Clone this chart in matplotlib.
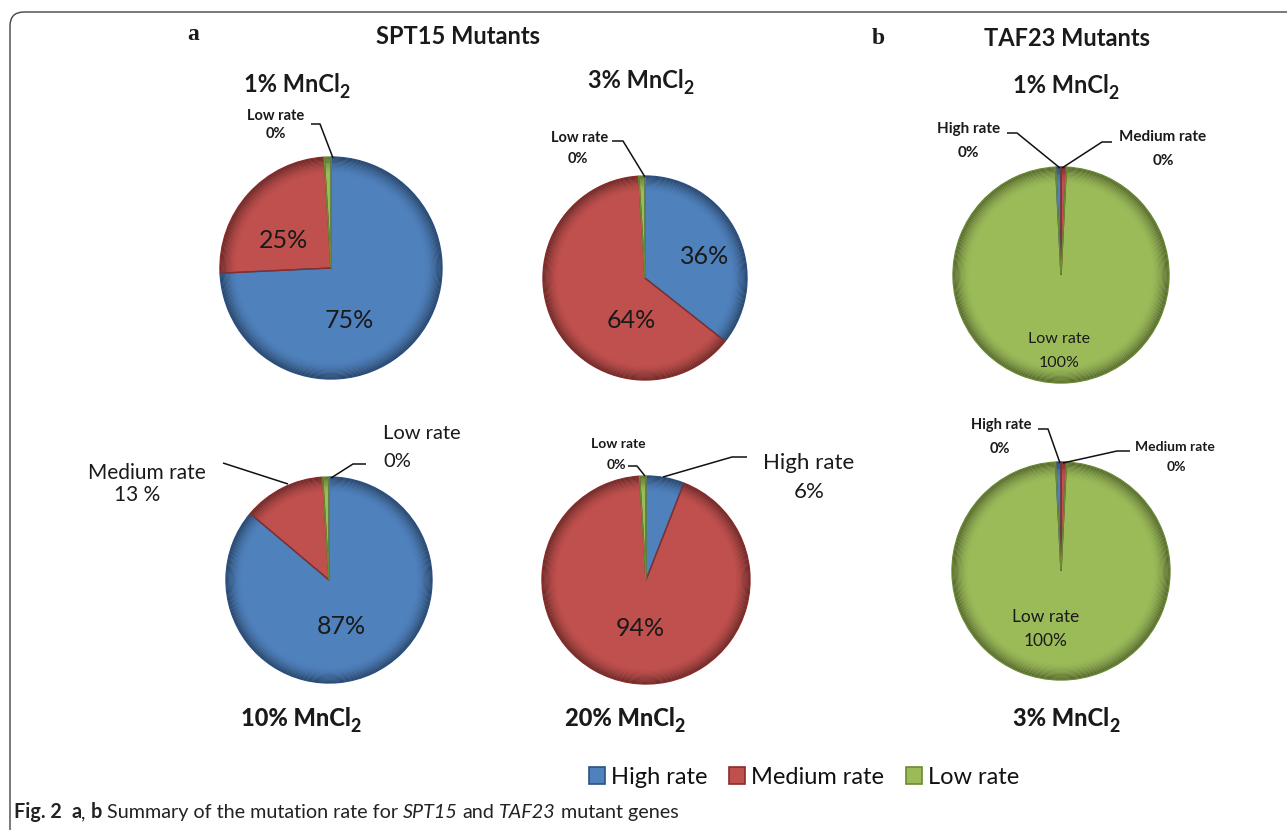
import matplotlib
matplotlib.use('Agg')
import matplotlib.pyplot as plt
from matplotlib.patches import Patch, FancyBboxPatch
from matplotlib.colors import to_rgb
import numpy as np

# ---------------- data ----------------
categories = ['High rate', 'Medium rate', 'Low rate']
panel_titles = ['1% MnCl', '3% MnCl', '10% MnCl', '20% MnCl', '1% MnCl', '3% MnCl']
high_rate = [75, 36, 87, 6, 0, 0]
medium_rate = [25, 64, 13, 94, 0, 0]
low_rate = [0, 0, 0, 0, 100, 100]
group_titles = ['SPT15 Mutants', 'TAF23 Mutants']
panel_letters = ['a', 'b']

# ---------------- style ----------------
W, H = 1287, 830
FONT = 'Lato'
base_colors = ['#4F81BD', '#C0504D', '#9BBB59']
edge_colors = ['#2B5184', '#8A2C2A', '#6B8A34']
TXT = '#1a1a1a'

fig = plt.figure(figsize=(W / 100, H / 100), dpi=100)
fig.patch.set_facecolor('white')

ov = fig.add_axes([0, 0, 1, 1], zorder=10)
ov.set_xlim(0, W)
ov.set_ylim(H, 0)
ov.axis('off')
renderer = fig.canvas.get_renderer()


def blend(c, d, f):
    c = np.array(to_rgb(c)); d = np.array(to_rgb(d))
    return tuple(c * (1 - f) + d * f)


def draw_pie(cx, cy, r, vals, start):
    pad = 1.04
    ra = r * pad
    ax = fig.add_axes([(cx - ra) / W, 1 - (cy + ra) / H, 2 * ra / W, 2 * ra / H])
    ax.pie(vals, colors=base_colors, startangle=start, counterclock=False,
           radius=1, wedgeprops=dict(linewidth=0))
    n = 14
    for k in range(n):
        f = 0.48 * (1 - k / n) ** 1.7
        cols = [blend(b, '#000000', f) for b in base_colors]
        ax.pie(vals, colors=cols, startangle=start, counterclock=False,
               radius=1 - k * 0.011, wedgeprops=dict(width=0.011, linewidth=0))
    wedges, _ = ax.pie(vals, startangle=start, counterclock=False, radius=1,
                       wedgeprops=dict(fill=False, linewidth=1.0))
    for w, ec in zip(wedges, edge_colors):
        w.set_edgecolor(ec)
    ax.set_xlim(-pad, pad)
    ax.set_ylim(-pad, pad)
    ax.set_aspect('equal')
    ax.axis('off')
    return ax


def space_w(kw):
    a = ov.text(0, 0, 'a a', **kw); b = ov.text(0, 0, 'aa', **kw)
    w = a.get_window_extent(renderer).width - b.get_window_extent(renderer).width
    a.remove(); b.remove()
    return w


def rich(x, y, pieces, ha='center'):
    items = []
    total = 0
    for s, kw, dy, nsp in pieces:
        t = ov.text(0, 0, s, ha='left', va='baseline', **kw)
        w = t.get_window_extent(renderer).width
        g = space_w(kw) * nsp if nsp else 0
        items.append((t, dy, w + g))
        total += w + g
    x0 = x - total / 2 if ha == 'center' else x
    for t, dy, w in items:
        t.set_position((x0, y + dy))
        x0 += w


def label(x, y, s, size, weight='normal', ha='center'):
    ov.text(x, y, s, ha=ha, va='center', fontsize=size, fontweight=weight,
            family=FONT, color=TXT)


def leader(pts):
    xs, ys = zip(*pts)
    ov.plot(xs, ys, color='#111111', lw=1.1, solid_capstyle='butt')


def mncl_title(x, y, s, size, weight):
    kw = dict(fontsize=size, fontweight=weight, family=FONT, color=TXT)
    kw2 = dict(fontsize=size * 0.75, fontweight=weight, family=FONT, color=TXT)
    rich(x, y, [(s, kw, 0, 0), ('2', kw2, 6, 0)])


# pie geometry (pixels)
centers = [(331, 268), (645, 278), (329, 580), (646, 580), (1061, 275), (1061, 571)]
radii = [111, 102, 103, 104, 108, 109]
min_show = [1.0, 1.0, 1.0, 1.0, 0.8, 0.8]

for i in range(6):
    vals = [high_rate[i], medium_rate[i], low_rate[i]]
    shown = [v if v > 0 else min_show[i] for v in vals]
    if i >= 4:
        start = 90 + shown[0] / sum(shown) * 360
    else:
        start = 90
    draw_pie(centers[i][0], centers[i][1], radii[i], shown, start)

# ---------- group titles ----------
ov.text(193, 34, panel_letters[0], ha='center', va='center', fontsize=17,
        fontweight='bold', family='Liberation Serif', color=TXT)
ov.text(878, 38, panel_letters[1], ha='center', va='center', fontsize=17,
        fontweight='bold', family='Liberation Serif', color=TXT)
ov.text(458, 37, group_titles[0], ha='center', va='center', fontsize=17,
        fontweight='bold', family=FONT, color=TXT)
ov.text(1067, 38, group_titles[1], ha='center', va='center', fontsize=17,
        fontweight='bold', family=FONT, color=TXT)

# ---------- panel titles ----------
mncl_title(297, 92, panel_titles[0], 17, 'bold')
mncl_title(641, 88, panel_titles[1], 17, 'bold')
mncl_title(1066, 93, panel_titles[4], 17, 'bold')
mncl_title(301, 726, panel_titles[2], 17, 'black')
mncl_title(625, 726, panel_titles[3], 17, 'black')
mncl_title(1066, 726, panel_titles[5], 17, 'black')

# ---------- in-slice labels ----------
label(283, 240, f'{medium_rate[0]}%', 18)
label(349, 320, f'{high_rate[0]}%', 18)
label(705, 256, f'{high_rate[1]}%', 18)
label(631, 320, f'{medium_rate[1]}%', 18)
label(341, 626, f'{high_rate[2]}%', 18)
label(640, 628, f'{medium_rate[3]}%', 18)
label(1059, 339, categories[2], 11.5)
label(1059, 363, f'{low_rate[4]}%', 11.5)
label(1046, 617, categories[2], 12.5)
label(1046, 641, f'{low_rate[5]}%', 12.5)

# ---------- outside labels with leaders ----------
# pie 1
label(276, 116, categories[2], 10.5, 'bold')
label(276, 134, f'{low_rate[0]}%', 10.5, 'bold')
leader([(311, 124), (320, 124), (333, 158)])
# pie 2
label(580, 138, categories[2], 10.5, 'bold')
label(578, 159, f'{low_rate[1]}%', 10.5, 'bold')
leader([(612, 141), (623, 141), (645, 177)])
# pie 3
label(969, 129, categories[0], 11, 'bold')
label(968, 153, f'{high_rate[4]}%', 11, 'bold')
leader([(1007, 133), (1017, 133), (1060, 168)])
label(1163, 137, categories[1], 11, 'bold')
label(1163, 161, f'{medium_rate[4]}%', 11, 'bold')
leader([(1112, 142), (1102, 142), (1062, 168)])
# pie 4
label(147, 473, categories[1], 15)
label(137, 495, f'{medium_rate[2]} %', 15)
leader([(223, 463), (288, 484)])
label(422, 433, categories[2], 14.5)
label(397, 461, f'{low_rate[2]}%', 14.5)
leader([(366, 464), (353, 464), (331, 478)])
# pie 5
label(618, 444, categories[2], 10, 'bold')
label(616, 465, f'{low_rate[3]}%', 10, 'bold')
leader([(628, 466), (637, 466), (645, 476)])
label(809, 463, categories[0], 16)
label(809, 492, f'{high_rate[3]}%', 16)
leader([(747, 457), (732, 457), (663, 477)])
# pie 6
label(1001, 425, categories[0], 10.5, 'bold')
label(1000, 449, f'{high_rate[5]}%', 10.5, 'bold')
leader([(1038, 429), (1048, 429), (1060, 463)])
label(1175, 447, categories[1], 10, 'bold')
label(1176, 467, f'{medium_rate[5]}%', 10, 'bold')
leader([(1130, 451), (1117, 451), (1063, 463)])

# ---------- legend ----------
handles = [Patch(facecolor=c, edgecolor=e, linewidth=1.2) for c, e in zip(base_colors, edge_colors)]
leg = fig.legend(handles=handles, labels=categories, loc='center',
                 bbox_to_anchor=(804 / W, 1 - 777 / H), ncol=3, frameon=False,
                 prop={'family': FONT, 'size': 17}, handlelength=0.7, handleheight=0.75,
                 handletextpad=0.25, columnspacing=0.9)
for t in leg.get_texts():
    t.set_color('#111111')

# ---------- frame ----------
frame = FancyBboxPatch((10, 12), 1400, 1000, boxstyle='round,pad=0,rounding_size=14',
                       transform=ov.transData, fill=False, ec='#444444', lw=1.0,
                       clip_on=True)
ov.add_patch(frame)

# ---------- caption ----------
cap = 14.2
kb = dict(fontsize=cap, fontweight='bold', family=FONT, color='#222222')
kn = dict(fontsize=cap, family=FONT, color='#222222')
ki = dict(fontsize=cap, style='italic', family=FONT, color='#222222')
rich(14, 818, [('Fig. 2', kb, 0, 2), ('a', kb, 0, 0), (',', kn, 0, 1), ('b', kb, 0, 1),
               ('Summary of the mutation rate for', kn, 0, 1), ('SPT15', ki, 0, 1),
               ('and', kn, 0, 1), ('TAF23', ki, 0, 1), ('mutant genes', kn, 0, 0)], ha='left')

fig.savefig('out.png', dpi=100, facecolor='white')
